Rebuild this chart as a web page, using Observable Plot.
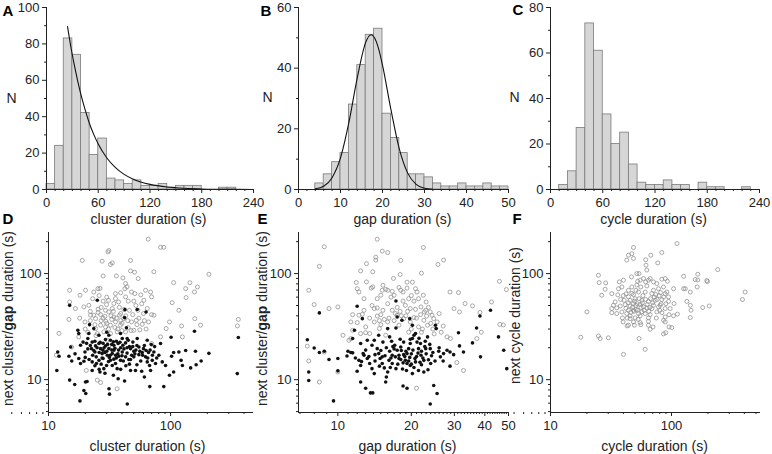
<!DOCTYPE html>
<html><head><meta charset="utf-8">
<script src="https://cdn.jsdelivr.net/npm/d3@7"></script>
<script src="https://cdn.jsdelivr.net/npm/@observablehq/plot@0.6"></script>
<style>
body{margin:0;background:#fff;}
#fig{position:relative;width:772px;height:454px;overflow:hidden;background:#fff;}
</style></head><body><div id="fig"></div>
<script>
// ---------- DATA ----------
// A: cluster duration histogram (bin start, width 10 s)
const clusterBinStart = [0,10,20,30,40,50,60,70,80,90,100,110,120,130,140,150,160,170,180,190,200,210,220,230];
const clusterCounts   = [3,24,83,74,42,19,28,6,5,3,5,2,2,3,1,2,2,2,0,0,1,1,0,0];
const clusterBinWidth = 10;
const clusterFitX = [24.4,28,32,36,40,45,50,55,60,70,80,90,100,110,120,140,160,180,200,220,240];
const clusterFitY = [89.5,79,69,60,52,43.5,36,30,25,17.3,12,8.3,5.8,4,2.8,1.35,0.65,0.3,0.15,0.07,0.03];
// B: gap duration histogram (bin width 2 s)
const gapBinStart = [0,2,4,6,8,10,12,14,16,18,20,22,24,26,28,30,32,34,36,38,40,42,44,46,48];
const gapCounts   = [0,0,2,5,9,12,28,41,51,53,25,17,12,5,5,4,2,1,1,2,1,1,2,1,1];
const gapBinWidth = 2;
const gapFitX = [4,6,8,10,12,14,16,17.3,19,20,22,24,26,28,30,32];
const gapFitY = [0.27,1.1,3.9,10.4,22.1,36.9,48.5,51,46.8,41,26.4,13.4,5.4,1.7,0.42,0.08];
// C: cycle duration histogram (bin width 10 s)
const cycleBinStart = [0,10,20,30,40,50,60,70,80,90,100,110,120,130,140,150,160,170,180,190,200,210,220,230];
const cycleCounts   = [0,2,8,27,73,61,33,20,25,11,3,2,2,4,2,2,0,3,1,1,0,0,1,0];
const cycleBinWidth = 10;

// D: cluster duration vs next gap (filled) / next cluster (open)
const dNextGap = [[11.9,18.2],[12.2,16.6],[11.7,12.2],[14.9,9.9],[16.4,9.0],[18.1,6.3],[19.5,7.9],[20.2,7.4],[20.7,9.6],[17.4,29.2],[17.7,27.2],[15.2,20.3],[14.9,50.2],[25.1,56],[21.7,33],[42.3,45.7],[42,38.4],[43.5,30.9],[53.3,45.8],[63,43.5],[101,25.1],[157,28.6],[359,25],[352,11.4],[206,17.7],[160,18.5],[133,18.8],[117,18.2],[106,18],[102,16.6],[122,15.2],[125,13.6],[146,12.9],[162,13.8],[178,15],[98,11],[106,11.8],[88,8.6],[67.6,8.6],[61,10.6],[44.2,5.9],[31.6,7.3],[31.3,8.2],[37.2,10.2],[42,9.7],[47,12.2],[51.6,12.2],[26.4,11.8],[22.8,12.2],[20.1,9.5],[22.8,14.7],[24.7,14.2],[14.7,16.6],[17.7,15.8],[18.3,14.2],[19.5,14.9],[19.9,18.2],[18.3,21.1],[19.2,22.6],[21,24.4],[22.8,22.6],[22.5,19.6],[24,18.2],[24.6,16.4],[25.9,15.2],[28,15.8],[27.9,18.9],[29.3,20.8],[31.2,19.6],[33.3,17.6],[34.3,15.6],[35.4,14.2],[37.7,16.6],[40.2,18.2],[40.7,21.1],[42.8,22.2],[47,19.6],[50,18.5],[50,16.4],[45.5,15.5],[55,20.3],[58.6,18],[62.4,16.4],[64.4,14.7],[67.3,13.6],[70.8,15.2],[73,18.2],[69.5,21.4],[64.4,23.5],[53.3,24.4],[49.1,22.6],[44.1,24.4],[40.2,24.4],[37.2,21.9],[34.3,21.1],[32.2,23.5],[29.3,23.9],[25.9,21.9],[24.3,20.8],[26.7,19.6],[27.5,17.6],[30.3,17],[32.2,15.2],[29.9,13.6],[28.4,12.7],[33.3,13.6],[36.5,12.7],[38.9,15.2],[42.8,16.4],[34.3,18.9],[25.9,26.2],[31.2,26.2],[38.9,27.2],[21.4,27.2],[23.5,30.3],[82.8,21.9],[80.2,17],[75.3,14.2],[68.6,12.2],[85.5,14.7],[91,13.6],[26,18],[28.5,20],[30,18.5],[32,17],[35,19.8],[37,17.5],[39,20],[44,17.8],[46,20.5],[48,17],[52,19],[55,17.2],[23,17],[21,19.5],[20,16.2],[27,14],[31,14.8],[36,16],[41,15],[43,13.5],[57,15],[60,19.6],[66,18],[24,23],[28,22],[33,21.5],[30,28],[36,23],[16.5,17.5],[15.5,15],[22,21],[23.5,18.8],[25,20],[26.5,22.5],[27.5,16],[29,18],[30.5,21.5],[31.5,16.2],[33,19],[34,22.8],[35.5,17],[37.5,19],[38.5,22.5],[40,16.8],[41.5,19.5],[44,20],[45,23.5],[47,15.5],[49,20.5],[51,17.5],[53,21],[56,18.5],[59,17],[61,21],[63,18.8],[65,16],[68,19],[71,17],[74,20.5],[77,16],[20.5,22],[21.5,15.5],[24,13.5],[26,12.5],[29,11.5],[34,11],[39,12.5],[46,14],[53,13.8],[58,12]];
const dNextCluster = [[65.6,211],[82.8,177],[88,177],[30.7,160],[31.2,165],[18.9,133],[27.5,131],[32.2,122],[33.3,126],[47,133],[47,106],[50.7,103],[73,104],[206,98.6],[54.3,89.7],[40.7,91],[106,82.2],[144,82],[166,74.8],[133,72.1],[157,67.1],[134,59.4],[103,53.2],[117,45.1],[158,37.6],[176,32.6],[123,32.1],[98,35],[92,30.3],[125,25.3],[359,37],[353,32.1],[14.9,69.6],[14.9,54],[14.7,37],[12.2,27.3],[11.6,17],[15.5,20.3],[18.1,62.5],[20.1,69.6],[23.5,67],[25.4,72],[26.4,72.5],[21.4,50.2],[19.5,48.5],[16.6,46.8],[25.5,46.1],[23.5,40.5],[26.7,41],[29,39.5],[31.2,43.5],[33.3,46.8],[34.3,52.2],[35.4,58.1],[42.8,60.3],[42.3,72],[42.8,80.5],[47.9,67],[50.9,64.7],[62.4,69.6],[68.6,67],[69.9,60.3],[60.4,56],[64.4,46.8],[69.9,41],[73,40.5],[58.6,33.3],[52.4,36.3],[47.9,35],[41.4,37.6],[38.9,32.6],[35.4,35],[32.2,32.6],[29.3,31.4],[26.7,32.6],[24.3,30.3],[25.1,27.2],[28.4,28.2],[32.2,27.2],[36.5,28.2],[42.8,28.2],[50,29.2],[34.3,39],[29.3,45.1],[24.3,37.6],[17.7,25.3],[22.1,40.5],[19.9,35],[35.4,64.7],[38.2,40.5],[29.9,51],[82.8,25.3],[69.9,21.9],[30.3,23.5],[33.3,20.3],[25.1,9.9],[26.7,9.4],[36.5,8.2],[20.4,12.2],[27,36],[30,34],[37,30],[40,34],[45,31],[55,38],[60,42],[45,55],[38,48],[28,55],[22,44],[20,30],[18,38],[31,56],[52,50],[57,63],[39,42],[33,37],[22,36],[24,33],[25.5,43],[27,48],[28,38],[29.5,35.5],[31,30],[32.5,40],[34,44],[35,31],[36,38],[37.5,54],[39,36],[40,29],[41.5,46],[43,40],[44.5,36],[46,45],[47.5,29],[49,41],[50,55],[53,33],[54,45],[56,29.5],[58,52],[61,36],[63,30],[66,35],[23,58],[26,62],[21,28],[24.5,26],[30,60],[39,66],[44,75],[36,95],[28,95]];

// E: gap duration vs next gap (filled) / next cluster (open)
const eNextGap = [[7.5,23.8],[8.0,19.9],[8.4,18],[8.8,18.5],[7.6,11.8],[7.6,9.8],[8.4,42.6],[9.2,15.5],[10,15.8],[10,12.1],[9.6,6.3],[10.9,16.7],[11.5,17.9],[11.7,29.2],[12,49.2],[11.5,24.4],[12.2,15.2],[12.4,13.6],[12,12],[12.4,9.5],[12.6,37.6],[12.8,17],[13.2,15.8],[13.5,14.2],[13.8,12.7],[14.1,11.4],[13,8.3],[13.6,7.5],[13.9,7.5],[13.8,21.1],[14.5,19.6],[14.7,17.6],[14.9,15.8],[15.2,14.2],[15.5,12.9],[15.8,10.6],[15.7,9.5],[15.3,22.6],[16.3,18.5],[16.7,17],[17.1,21.1],[17.5,18.9],[17.8,17],[18.1,15.5],[18.5,14.4],[18.9,15.2],[19.2,17.6],[19.5,19.6],[19.8,21.9],[20.2,24.4],[20.5,26.2],[17.3,30.7],[17.3,55.2],[17.5,39],[18.3,36.3],[19.7,37.6],[20.2,32.6],[20.8,27.2],[21.1,22.6],[21.4,19.6],[21.9,17],[22.5,15.2],[20.8,14.7],[19.8,13.6],[19.1,12.2],[20.2,11.4],[21.4,12.2],[22.5,11.8],[23.4,12.4],[24.7,8.8],[23.9,5.9],[25.5,7.4],[18.5,8.7],[19.2,8.3],[25.1,32.6],[25.3,30.3],[23.9,19.6],[25.9,18.5],[26.3,16.4],[27.1,17.6],[28,18.9],[28.8,18.2],[29.8,17.2],[31.5,20.8],[31.2,27.7],[28.8,13.4],[32.7,18.2],[35.6,22.2],[37,30.7],[38.4,16.4],[38.2,39.8],[42.2,45.1],[45.5,25.3],[47.8,18.9],[49.2,12.7],[16,30.3],[14.7,26.2],[14.1,23.5],[16.3,25.3],[13.2,23.5],[12.4,21.9],[11,18.5],[11.3,18],[11.8,16],[16.7,14.2],[17.3,12.7],[16,11.8],[15.2,16.4],[18.1,20.3],[18.6,22.6],[21.8,21.9],[22.9,19.6],[23.3,25.3],[12.7,17.6],[16.5,16],[17.8,15.8],[18.8,16.5],[19.5,15],[20,17.5],[21,16.5],[22,18.5],[23,17.5],[24.2,16.8],[24,14.2],[22,13.8],[20.5,13],[17,19.5],[15.8,20],[14.2,15],[13.4,16.5],[19,18.5],[18,24],[22.8,23],[16.6,23],[14.2,17.2],[15,18.8],[15.6,16.8],[16.2,15.2],[16.8,20.5],[17.2,16.4],[17.6,14],[18.2,18.8],[18.6,17.2],[19.2,14.2],[19.7,16.2],[20.3,19],[20.7,15.8],[21.3,17.8],[21.7,14.6],[22.3,16],[22.7,20.5],[23.5,15.4],[24.5,18],[25,15],[26,20],[27,15],[16.4,13],[18.4,12.6],[20,14],[13,19],[12.5,14.8],[14.8,13.4],[23.8,21.5],[19.8,24],[21.5,24.5]];
const eNextCluster = [[8.8,179],[8.4,117],[7.6,69.6],[8.0,51],[9.2,46.8],[10,48.5],[7.6,15],[7.5,20.7],[8.4,9.5],[8.8,18.2],[10,11.8],[10.5,26.2],[11.3,24.4],[11.5,41],[12,72],[11.9,82.4],[12.4,106],[13.1,124],[13.9,104],[14.5,211],[15.2,163],[16,158],[14.3,134],[14.3,143],[18.1,133],[16.9,90],[18,98],[13.7,73],[13.9,75],[13.1,83.5],[12.2,67],[12.8,58],[12.2,40.5],[12.6,41.3],[12,34.5],[11.3,35],[11.5,29.2],[12.4,27.2],[13,31.4],[13.5,27.2],[13,27.7],[14.1,35],[14.5,39.8],[15,41],[14.5,47.5],[15.3,45.1],[14.5,58],[15,62.5],[15.2,69.6],[15.7,71],[16,69.6],[15.3,77.6],[16.7,68],[17,62.5],[18.1,69.6],[18.5,67],[19.2,83],[19.2,73],[20.8,72],[21.1,67],[22.4,62.5],[21.4,58],[20.5,55],[19.8,46.8],[20.8,46],[21.9,48.5],[22.6,43.5],[23.1,39.8],[23.9,43.5],[24.3,40.5],[24.7,37.6],[25.5,35],[27,32],[28,25.3],[28.9,24.4],[30.7,14.5],[32.7,12.2],[29.9,46.8],[31.5,43.5],[33.2,52.1],[35.6,49.6],[38.2,43],[37.1,24.4],[38.7,28],[42.6,54],[45.9,84.5],[46.1,33.2],[47.6,32.8],[49,70.7],[28.8,67],[31.2,66.2],[25.7,122],[27.1,134],[22.4,176],[22,101],[20.2,83],[18.9,50.2],[17.5,40.5],[16.7,45.1],[16,35],[17.8,32.6],[18.6,37.6],[19.8,35],[21.4,31.4],[22.5,36.3],[23.3,32.6],[21,8.3],[11.1,23.5],[15.7,26.2],[14.1,46.8],[14.8,30.3],[17,36],[18,44],[19,40],[20,30],[21,38],[22,28],[16,52],[17.5,48],[19.5,58],[23,54],[24.5,30],[26,42],[15,33],[13.5,38],[16.2,38],[17.2,42],[18.2,40],[19.3,44],[20.5,38.5],[21.8,41],[22.9,45],[24,34],[15.5,37],[14.8,36],[16.5,60],[18.5,55],[20,62],[17.8,74],[13.8,50],[12.8,45],[19.5,28],[22.2,30],[24.8,27],[26.5,28],[23.5,48]];

// F: cycle duration vs next cycle duration
const fNextCycle = [[111,192],[48.5,176],[47,154],[48.5,139],[42.7,134],[44.1,149],[61.2,135],[61.6,120],[62.5,108],[67.5,149],[77,126],[83.2,158],[241,109],[126,94.4],[157,87.8],[165,87],[196,86],[198,84],[165,98.6],[163,74.8],[126,72],[130,72],[143,67],[134,54.7],[143,50.2],[145,45.1],[143,38.5],[181,47.8],[205,49.5],[386,56.9],[406,67],[24.9,96.4],[25.2,82.2],[28.6,81.7],[28.3,71.1],[26.5,62.5],[32.1,64.7],[20,43.5],[17.8,25.1],[24.9,25.8],[25.7,24.4],[30.1,24.8],[40.1,17.3],[53.9,24.4],[60.6,19.3],[85.9,27],[89.6,27.7],[85.9,36.3],[88.7,35],[95.4,31.4],[100.6,31],[39.8,35],[44.1,32.6],[48.5,35],[55.1,34.5],[64.5,32.6],[66.6,29.9],[70.3,31.4],[64.5,35.5],[74.9,38.1],[95.4,41],[104,40],[112,41.5],[36.5,72],[38.9,74.8],[37,83.5],[40.1,86.7],[46.7,93],[51.7,100],[53.9,100],[52.5,84.6],[55.1,86.7],[58.7,89.7],[61.2,83.5],[64.5,86.7],[66.6,89.7],[71,83.5],[75.6,80.5],[83.2,88.4],[88.7,89.7],[92.5,84.6],[85.9,74.8],[104,72],[81.2,66.2],[88.7,64.7],[74.1,63.4],[68.8,64.7],[60.6,67],[53.4,67],[48.5,63.4],[44.1,60.3],[40.6,56],[45.5,56],[50.1,58],[56.9,56],[64.5,54.7],[73.3,56],[83.2,56.9],[94.5,54.7],[34.2,54],[33.1,50.2],[32.1,46.8],[35.3,47.5],[37.7,49.5],[41.4,51],[45.5,49.5],[48.5,52.2],[50.8,50.2],[55.1,51],[58.7,48.5],[62.5,47.5],[68.8,46.8],[78.1,48.5],[88.7,46.8],[71,50.2],[80.6,50.2],[83.2,42.8],[75.6,43.5],[66.6,41],[60.6,42],[55.1,40],[50.1,38.2],[45.5,40],[42.7,42],[38.9,43.5],[35.3,42],[32.1,42.8],[44.1,45.1],[48.5,45.1],[52.5,45.1],[53.4,42],[56.9,43.5],[45.5,37.6],[43,32.1],[49.3,32.6],[55.8,33],[39.3,38.2],[64.5,38.2],[88.7,39],[97.5,46.8],[105,52.2],[94.5,60.3],[91.5,67],[78.1,72],[71,69.6],[50.8,69.6],[47,74.8],[55.8,74.8],[62.5,76.4],[51.7,78.1],[44.1,69.6],[42.1,64.3],[42,47],[44,53],[46,43],[47.5,48],[49.5,55],[51,46],[52,52],[54,58],[56,48],[57.5,53],[59.5,45],[61,57],[63,51],[65,44],[67,58],[70,53],[72,60],[76,57],[79,62],[82,52],[86,60],[90,52],[38,57],[36,63],[40,62],[49,44],[53,37],[58,62],[66,48],[80,45],[47,65],[43,38]];

// Tick values
const histTimeTicks = [0,60,120,180,240];
const histTimeMinor = [10,20,30,40,50,70,80,90,100,110,130,140,150,160,170,190,200,210,220,230];
const gapTicks = [0,10,20,30,40,50];
const gapMinor = [2,4,6,8,12,14,16,18,22,24,26,28,32,34,36,38,42,44,46,48];
const countTicksA = [0,20,40,60,80,100], countMinorA = [10,30,50,70,90];
const countTicksB = [0,20,40,60], countMinorB = [10,30,50];
const countTicksC = [0,20,40,60,80], countMinorC = [10,30,50,70];
const logTicks = [10,100];
const logMinor = [5,6,7,8,9,20,30,40,50,60,70,80,90,200,300,400,500];
const eTicks = [10,20,30,40,50];
const eMinor = [7,8,9,11,12,13,14,15,16,17,18,19,21,22,23,24,25,26,27,28,29,31,32,33,34,35,36,37,38,39,41,42,43,44,45,46,47,48,49];

// ---------- DRAWING ----------
const fig = document.getElementById("fig");
const FONT = "'Liberation Sans', Arial, Helvetica, sans-serif";
const INK = "#222";
const BAR_FILL = "#d6d6d6", BAR_STROKE = "#7a7a7a";

function build(p, marks) {
  const svg = Plot.plot({
    width: p.width, height: p.height,
    marginLeft: p.ml, marginRight: p.mr, marginTop: p.mt, marginBottom: p.mb,
    x: p.x, y: p.y,
    style: {background: "transparent", color: INK, fontFamily: FONT, fontSize: "13px", overflow: "visible"},
    marks
  });
  svg.style.position = "absolute";
  svg.style.left = p.left + "px";
  svg.style.top = p.top + "px";
  svg.style.maxWidth = "none";
  fig.appendChild(svg);
  return svg;
}
function txt(p, s, px, py, o = {}) {
  return Plot.text([s], {text: d => d, frameAnchor: "top-left",
    dx: px - p.left - p.ml, dy: py - p.top - p.mt,
    textAnchor: "middle", lineAnchor: "middle", fill: INK, fontSize: 14, fontFamily: FONT, ...o});
}
function axes(p, xt, xm, yt, ym) {
  return [
    Plot.axisX({ticks: xm, tickSize: 2, tickFormat: () => "", label: null}),
    Plot.axisY({ticks: ym, tickSize: 2, tickFormat: () => "", label: null}),
    Plot.axisX({ticks: xt, tickSize: 4, tickPadding: 4, tickFormat: d => String(d), label: null}),
    Plot.axisY({ticks: yt, tickSize: 4, tickPadding: 3, tickFormat: d => String(d), label: null}),
    Plot.ruleX([p.x.domain[0]], {stroke: INK, strokeWidth: 1}),
    Plot.ruleY([p.y.domain[0]], {stroke: INK, strokeWidth: 1})
  ];
}
function bins(starts, counts, w) {
  return starts.map((s, i) => ({x1: s, x2: s + w, y: counts[i]})).filter(d => d.y > 0);
}
function histMarks(data) {
  return Plot.rectY(data, {x1: "x1", x2: "x2", y: "y", fill: BAR_FILL, stroke: BAR_STROKE, strokeWidth: 0.8});
}
function fitLine(xs, ys) {
  return Plot.line(xs.map((x, i) => [x, ys[i]]), {x: d => d[0], y: d => d[1], stroke: "#111", strokeWidth: 1.1, curve: "monotone-x"});
}
function openDots(data) {
  return Plot.dot(data, {x: d => d[0], y: d => d[1], r: 2.0, stroke: "#8c8c8c", strokeWidth: 0.75, fill: "none"});
}
function filledDots(data) {
  return Plot.dot(data, {x: d => d[0], y: d => d[1], r: 1.8, fill: "#111", stroke: "none"});
}

// Top row
const pA = {left: 0, top: 0, width: 257, height: 232, ml: 46, mr: 4, mt: 7, mb: 43, x: {domain: [0, 240]}, y: {domain: [0, 100]}};
build(pA, [
  histMarks(bins(clusterBinStart, clusterCounts, clusterBinWidth)),
  fitLine(clusterFitX, clusterFitY),
  ...axes(pA, histTimeTicks, histTimeMinor, countTicksA, countMinorA),
  txt(pA, "A", 2, 11, {textAnchor: "start", fontWeight: "bold", fontSize: 15, fill: "#000"}),
  txt(pA, "N", 11, 98),
  txt(pA, "cluster duration (s)", 148, 219)
]);

const pB = {left: 255, top: 0, width: 257, height: 232, ml: 43, mr: 4, mt: 7, mb: 43, x: {domain: [0, 50]}, y: {domain: [0, 60]}};
build(pB, [
  histMarks(bins(gapBinStart, gapCounts, gapBinWidth)),
  fitLine(gapFitX, gapFitY),
  ...axes(pB, gapTicks, gapMinor, countTicksB, countMinorB),
  txt(pB, "B", 260, 11, {textAnchor: "start", fontWeight: "bold", fontSize: 15, fill: "#000"}),
  txt(pB, "N", 267, 97),
  txt(pB, "gap duration (s)", 402, 219)
]);

const pC = {left: 510, top: 0, width: 262, height: 232, ml: 40, mr: 13, mt: 7, mb: 43, x: {domain: [0, 240]}, y: {domain: [0, 80]}};
build(pC, [
  histMarks(bins(cycleBinStart, cycleCounts, cycleBinWidth)),
  ...axes(pC, histTimeTicks, histTimeMinor, countTicksC, countMinorC),
  txt(pC, "C", 512, 10, {textAnchor: "start", fontWeight: "bold", fontSize: 15, fill: "#000"}),
  txt(pC, "N", 514, 97),
  txt(pC, "cycle duration (s)", 653, 219)
]);

// Bottom row
const yLog = {type: "log", domain: [4.9, 244]};
const LABEL_NEXT = "next cluster/gap duration (s)";
const pD = {left: 0, top: 212, width: 257, height: 242, ml: 48, mr: 4, mt: 20, mb: 42, x: {type: "log", domain: [10, 478]}, y: yLog};
build(pD, [
  openDots(dNextCluster),
  filledDots(dNextGap),
  ...axes(pD, logTicks, logMinor.filter(v => v < 478), logTicks, logMinor.filter(v => v > 4.9 && v < 244)),
  txt(pD, "D", 2, 219, {textAnchor: "start", fontWeight: "bold", fontSize: 15, fill: "#000"}),
  txt(pD, LABEL_NEXT, 8, 318, {rotate: -90}),
  txt(pD, "cluster duration (s)", 147, 446)
]);

const pE = {left: 255, top: 212, width: 257, height: 242, ml: 43, mr: 4, mt: 20, mb: 42, x: {type: "log", domain: [6.9, 50]}, y: yLog};
build(pE, [
  openDots(eNextCluster),
  filledDots(eNextGap),
  ...axes(pE, eTicks, eMinor, logTicks, logMinor.filter(v => v > 4.9 && v < 244)),
  txt(pE, "E", 257, 219, {textAnchor: "start", fontWeight: "bold", fontSize: 15, fill: "#000"}),
  txt(pE, LABEL_NEXT, 262.5, 318, {rotate: -90}),
  txt(pE, "gap duration (s)", 407, 446)
]);

const pF = {left: 510, top: 212, width: 262, height: 242, ml: 40, mr: 12, mt: 20, mb: 42, x: {type: "log", domain: [10, 544]}, y: yLog};
build(pF, [
  openDots(fNextCycle),
  ...axes(pF, logTicks, logMinor.filter(v => v < 544), logTicks, logMinor.filter(v => v > 4.9 && v < 244)),
  txt(pF, "F", 512, 219, {textAnchor: "start", fontWeight: "bold", fontSize: 15, fill: "#000"}),
  txt(pF, "next cycle duration (s)", 515, 315, {rotate: -90}),
  txt(pF, "cycle duration (s)", 654, 446)
]);

// bold "gap" inside the y labels of D and E
d3.select(fig).selectAll("text").filter(function() { return this.textContent === LABEL_NEXT; }).each(function() {
  const t = d3.select(this);
  t.text(null);
  t.append("tspan").text("next cluster/");
  t.append("tspan").attr("font-weight", "bold").text("gap");
  t.append("tspan").text(" duration (s)");
});
</script></body></html>
